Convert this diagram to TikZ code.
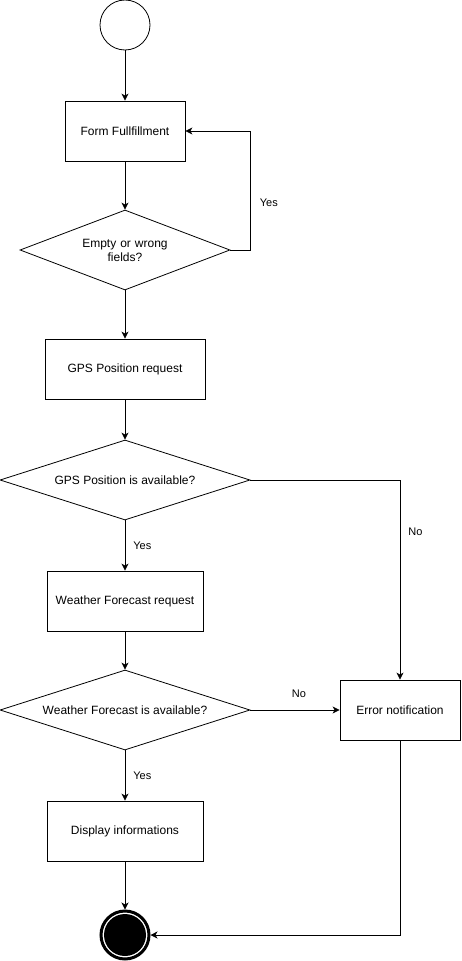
\documentclass[tikz,border=0pt]{standalone}
\usepackage{fontspec}
\setmainfont{Liberation Sans}
\usetikzlibrary{arrows.meta, shapes.geometric}

\tikzset{
  flow/.style={-{Stealth[length=7pt,width=7pt,inset=2pt]}, line width=0.8pt},
  actbox/.style={draw, line width=0.8pt, minimum height=60pt, inner sep=0pt, align=center},
  choice/.style={draw, diamond, line width=0.8pt, inner sep=0pt, align=center},
  lbl/.style={font=\fontsize{11}{13}\selectfont, inner sep=2pt}
}

\begin{document}
\begin{tikzpicture}[x=1pt,y=-1pt,font=\fontsize{12}{14}\selectfont]
\useasboundingbox (0,0) rectangle (461,961);
% Start and end states
\node[circle, draw, line width=0.8pt, minimum size=50pt, inner sep=0pt] (start) at (125,25) {};
\node[circle, draw, line width=3pt, minimum size=48pt, inner sep=0pt] (stop) at (125,935) {};
\fill (stop.center) circle (21pt);
% Actions
\node[actbox, minimum width=120pt] (form) at (125,131) {Form Fullfillment};
\node[actbox, minimum width=160pt] (gpsreq) at (125,369) {GPS Position request};
\node[actbox, minimum width=156pt] (wreq) at (125,601) {Weather Forecast request};
\node[actbox, minimum width=156pt] (show) at (125,831) {Display informations};
\node[actbox, minimum width=120pt] (err) at (400,710) {Error notification};
% Decisions
\node[choice, minimum width=210pt, minimum height=80pt, shape aspect=2.6, text width=95pt] (chk) at (125,250) {Empty or wrong\\fields?};
\node[choice, minimum width=250pt, minimum height=80pt, shape aspect=3.1] (gpsok) at (125,480) {GPS Position is available?};
\node[choice, minimum width=250pt, minimum height=80pt, shape aspect=3.1] (wok) at (125,710) {Weather Forecast is available?};
% Connectors
\draw[flow] (start) -- (form);
\draw[flow] (form) -- (chk);
\draw[flow] (chk.east) -- ++(20,0) |- node[lbl, right, pos=0.2, xshift=7pt] {Yes} (form.east);
\draw[flow] (chk) -- (gpsreq);
\draw[flow] (gpsreq) -- (gpsok);
\draw[flow] (gpsok.east) -| node[lbl, right, pos=0.63, xshift=6pt] {No} (err.north);
\draw[flow] (gpsok) -- node[lbl, right, xshift=6pt] {Yes} (wreq);
\draw[flow] (wreq) -- (wok);
\draw[flow] (wok) -- node[lbl, above, xshift=4pt, yshift=10pt] {No} (err);
\draw[flow] (wok) -- node[lbl, right, xshift=6pt] {Yes} (show);
\draw[flow] (show) -- (stop);
\draw[flow] (err.south) |- (stop.east);
\end{tikzpicture}
\end{document}
